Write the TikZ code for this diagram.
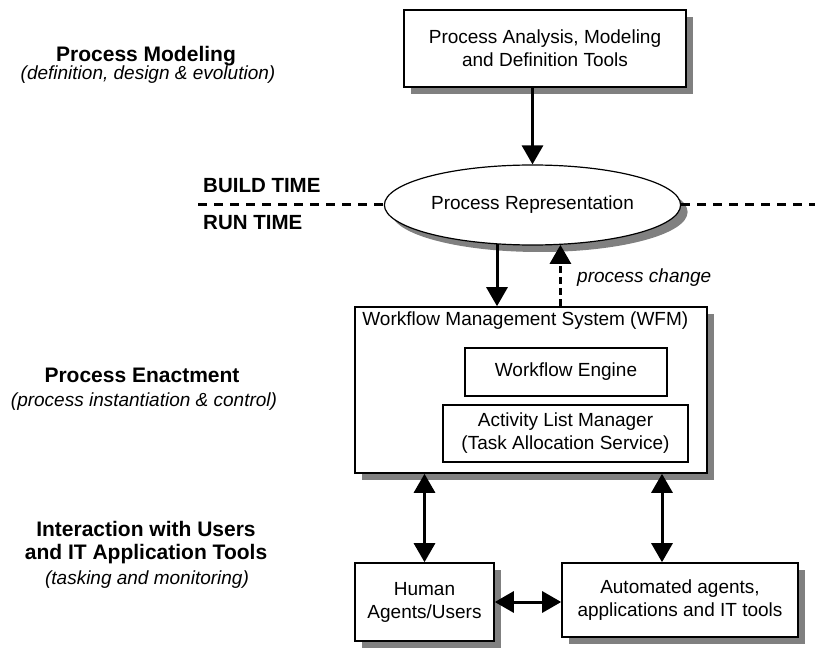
\documentclass[tikz,border=0pt]{standalone}
\usepackage{fontspec}
\setmainfont{Liberation Sans}
\usetikzlibrary{shapes,arrows.meta,positioning,shadows}

\begin{document}
\begin{tikzpicture}[
    x=1pt, y=-1pt,
    font=\fontsize{19}{23}\selectfont,
    boxshadow/.style={drop shadow={shadow xshift=7pt, shadow yshift=-7pt, fill=black!50, opacity=1}},
    toolbox/.style={rectangle, draw=black, line width=1.6pt, fill=white, boxshadow, align=center},
    reprshape/.style={ellipse, draw=black, line width=1.2pt, fill=white, boxshadow, minimum width=259pt, minimum height=80pt},
    innerbox/.style={rectangle, draw=black, line width=1.3pt, fill=white, align=center},
    heading/.style={font=\fontsize{21}{23}\selectfont\bfseries, align=center},
    note/.style={font=\fontsize{19}{23}\selectfont\itshape},
    era/.style={font=\fontsize{20.5}{24}\selectfont\bfseries, anchor=west, inner sep=0pt},
    timeline/.style={line width=3pt, dash pattern=on 9pt off 7pt},
    arrow/.style={line width=3pt, -{Triangle[width=21pt,length=19pt]}},
    twoway/.style={line width=3pt, {Triangle[width=21pt,length=19pt]}-{Triangle[width=21pt,length=19pt]}}
]
\useasboundingbox (0,0) rectangle (815,650);
% Build time
\node[toolbox, minimum width=282pt, minimum height=77pt] (tools) at (545,48.5) {Process Analysis, Modeling\\and Definition Tools};
\node[reprshape, below of=tools, node distance=156.5pt, xshift=-12.5pt] (repr) {Process Representation};
% Run time
\node[toolbox, below of=repr, node distance=185pt, xshift=-1.5pt, minimum width=352pt, minimum height=166pt] (wfm) {};
\node[anchor=west, inner sep=0pt] (wfmtitle) at ([xshift=8pt,yshift=-14pt]wfm.north west) {Workflow Management System (WFM)};
\node[innerbox, minimum width=202pt, minimum height=48pt] (engine) at (566,372) {Workflow Engine};
\node[innerbox, minimum width=245pt, minimum height=57pt] (alm) at (565.5,433.5) {Activity List Manager\\(Task Allocation Service)};
% Agents
\node[toolbox, below of=wfm, node distance=212pt, xshift=-106.5pt, minimum width=139pt, minimum height=78pt] (human) {Human\\Agents/Users};
\node[toolbox, below of=wfm, node distance=210pt, xshift=149pt, minimum width=236pt, minimum height=74pt] (auto) {Automated agents,\\applications and IT tools};
% Left column
\node[heading] (modeling) at (146,56) {Process Modeling};
\node[note] (modelingnote) at (148,75) {(definition, design \& evolution)};
\node[heading] (enact) at (142,375) {Process Enactment};
\node[note] (enactnote) at (144,402) {(process instantiation \& control)};
\node[heading] (interact) at (146,543) {Interaction with Users\\and IT Application Tools};
\node[note] (interactnote) at (147,580) {(tasking and monitoring)};
% Build / run boundary
\node[era] (build) at (203,186) {BUILD TIME};
\node[era] (run) at (203,223) {RUN TIME};
\coordinate (lineleft) at (198,205);
\coordinate (lineright) at (815,205);
\draw[timeline] (lineleft) -- (repr.west);
\draw[timeline] (repr.east) -- (lineright);
% Arrows
\coordinate (autotop) at ([xshift=-18pt]auto.north);
\draw[arrow] (tools.south -| repr.north) -- (repr.north);
\draw[arrow] (repr.228) -- (repr.228 |- wfm.north);
\draw[arrow, dash pattern=on 7pt off 4pt] (repr.305 |- wfm.north) -- (repr.305);
\node[note, anchor=west, inner sep=0pt] (change) at (577,278) {process change};
\draw[twoway] (human.north |- wfm.south) -- (human.north);
\draw[twoway] (autotop |- wfm.south) -- (autotop);
\draw[twoway] (human.east) -- (human.east -| auto.west);
\end{tikzpicture}
\end{document}
